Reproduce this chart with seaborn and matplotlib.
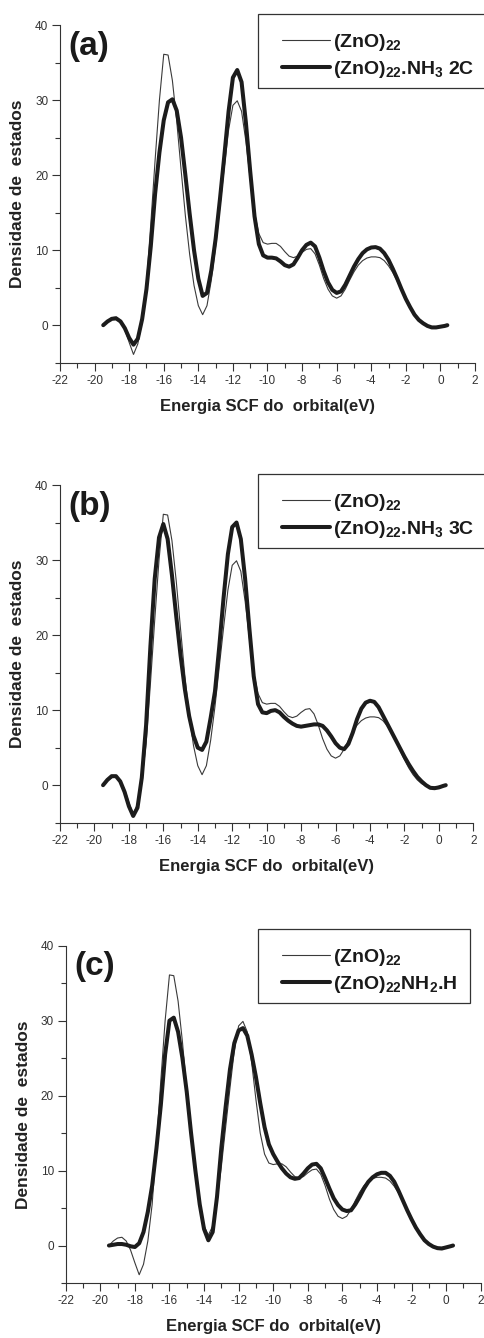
import numpy as np
import seaborn as sns
import matplotlib.pyplot as plt
from matplotlib.ticker import MultipleLocator
from matplotlib.patches import Rectangle

# energy grid (eV) shared by all curves
energia = np.append(np.arange(-19.5, 0.3, 0.25), 0.4)

# (ZnO)22 reference curve, thin line, same in all panels
zno22 = [0.0, 0.6,
         1.0, 1.1, 0.6, -0.6,
         -2.3, -3.9, -2.5, 0.6,
         5.5, 13.5, 22.0, 30.0,
         36.1, 36.0, 32.6, 27.2,
         20.8, 14.6, 9.4, 5.3,
         2.6, 1.4, 2.6, 6.0,
         10.5, 15.8, 21.0, 26.0,
         29.3, 29.9, 28.5, 24.5,
         19.5, 15.0, 12.2, 11.0,
         10.8, 10.9, 10.9, 10.5,
         9.8, 9.2, 9.0, 9.2,
         9.7, 10.1, 10.2, 9.5,
         8.0, 6.2, 4.8, 3.9,
         3.6, 3.9, 4.8, 6.0,
         7.1, 8.0, 8.6, 8.95,
         9.1, 9.1, 9.0, 8.6,
         7.9, 7.0, 5.9, 4.6,
         3.4, 2.3, 1.4, 0.7,
         0.2, -0.1, -0.25, -0.25,
         -0.15, -0.05, 0.0]

nh3_2c = [0.0, 0.5,
          0.85, 0.9, 0.5, -0.4,
          -1.7, -2.6, -1.8, 0.8,
          4.8, 10.5, 17.5, 23.0,
          27.3, 29.7, 30.1, 28.6,
          25.0, 20.0, 14.8, 10.0,
          6.2, 3.9, 4.3, 7.3,
          11.5, 16.8, 22.5, 28.5,
          33.0, 34.0, 32.4, 27.0,
          20.5, 14.5, 10.8, 9.3,
          9.0, 9.0, 8.9, 8.5,
          8.0, 7.8, 8.1, 9.0,
          10.0, 10.7, 11.0, 10.5,
          9.0, 7.2, 5.7, 4.7,
          4.3, 4.5, 5.4, 6.6,
          7.8, 8.8, 9.6, 10.1,
          10.35, 10.4, 10.2, 9.6,
          8.7, 7.5, 6.2, 4.8,
          3.5, 2.4, 1.4, 0.7,
          0.25, -0.1, -0.3, -0.3,
          -0.2, -0.1, 0.0]

nh3_3c = [0.0, 0.7,
          1.2, 1.2, 0.5, -0.9,
          -2.8, -4.1, -3.0, 1.0,
          8.0, 18.5, 27.5, 33.0,
          34.8, 32.8, 28.0, 22.5,
          17.3, 12.8, 9.2, 6.6,
          5.0, 4.7, 5.8, 9.0,
          12.5, 18.5, 25.0, 30.8,
          34.4, 35.0, 32.8, 27.5,
          20.8, 14.5, 10.8, 9.7,
          9.6, 9.9, 10.0, 9.7,
          9.1, 8.6, 8.2, 7.9,
          7.8, 7.9, 8.0, 8.1,
          8.1, 7.9, 7.3, 6.5,
          5.6, 5.0, 4.8, 5.5,
          7.0, 8.8, 10.2, 11.0,
          11.25, 11.1, 10.4, 9.3,
          8.2, 7.1, 6.0, 4.9,
          3.8, 2.8, 1.9, 1.1,
          0.5, 0.0, -0.35, -0.4,
          -0.3, -0.1, 0.0]

nh2_h = [0.0, 0.1,
         0.2, 0.2, 0.1, -0.1,
         -0.2, 0.3, 1.8, 4.5,
         8.0, 13.0, 18.7, 25.5,
         30.0, 30.4, 28.5, 25.0,
         20.5, 15.0, 10.0, 5.5,
         2.2, 0.7, 1.8, 6.5,
         13.0, 18.5, 23.5, 27.0,
         28.7, 29.0, 28.0, 25.5,
         22.5, 19.0, 15.8, 13.5,
         12.2, 11.2, 10.3, 9.6,
         9.1, 8.9, 9.0, 9.6,
         10.3, 10.8, 10.9, 10.3,
         9.0, 7.6, 6.3, 5.4,
         4.8, 4.6, 4.7, 5.5,
         6.5, 7.6, 8.5, 9.1,
         9.5, 9.7, 9.7, 9.3,
         8.5, 7.3, 6.0, 4.7,
         3.5, 2.4, 1.5, 0.7,
         0.2, -0.15, -0.35, -0.4,
         -0.25, -0.1, 0.0]

paineis = ['(a)', '(b)', '(c)']
rotulos = [r'(ZnO)$_{22}$.NH$_3$ 2C', r'(ZnO)$_{22}$.NH$_3$ 3C', r'(ZnO)$_{22}$NH$_2$.H']
curvas = [nh3_2c, nh3_3c, nh2_h]

sns.set_style('ticks')
plt.rcParams['font.family'] = ['Liberation Sans', 'DejaVu Sans']
plt.rcParams['axes.unicode_minus'] = False
plt.rcParams['mathtext.fontset'] = 'custom'
plt.rcParams['mathtext.rm'] = 'Liberation Sans:bold'
plt.rcParams['mathtext.it'] = 'Liberation Sans:bold'
plt.rcParams['mathtext.bf'] = 'Liberation Sans:bold'

W, H = 485, 1338
fig = plt.figure(figsize=(W / 100, H / 100), dpi=100)

# axes boxes in pixels: left, top (y=40), right, bottom (y=-5)
caixas = [(60, 25, 475, 362.7), (60, 485, 473.3, 822.7), (65.7, 945.7, 480.7, 1283)]
# legend frames in pixels: left, top, right, bottom
quadros = [(258, 14, 492, 88), (258, 474, 492, 548), (258, 929, 470, 1003)]

for i in range(3):
    l, t, r, b = caixas[i]
    ax = fig.add_axes([l / W, 1 - b / H, (r - l) / W, (b - t) / H])
    sns.lineplot(x=energia, y=zno22, ax=ax, color='#3a3a3a', linewidth=0.8,
                 label=r'(ZnO)$_{22}$', solid_joinstyle='round')
    sns.lineplot(x=energia, y=curvas[i], ax=ax, color='#1c1c1c', linewidth=2.9,
                 label=rotulos[i], solid_joinstyle='round', solid_capstyle='round')
    ax.set_xlim(-22, 2)
    ax.set_ylim(-5, 40)
    ax.xaxis.set_major_locator(MultipleLocator(2))
    ax.xaxis.set_minor_locator(MultipleLocator(1))
    ax.yaxis.set_major_locator(MultipleLocator(10))
    ax.yaxis.set_minor_locator(MultipleLocator(5))
    ax.tick_params(which='major', length=6, width=0.8, color='#333', labelsize=8.5,
                   labelcolor='#333', pad=2.5)
    ax.tick_params(which='minor', length=3.5, width=0.8, color='#333')
    sns.despine(ax=ax)
    for s in ['left', 'bottom']:
        ax.spines[s].set_color('#333')
        ax.spines[s].set_linewidth(0.8)
    ax.set_xlabel('Energia SCF do  orbital(eV)', fontsize=12, fontweight='bold',
                  color='#222', labelpad=9)
    ax.set_ylabel('Densidade de  estados', fontsize=12.5, fontweight='bold',
                  color='#222', labelpad=7)
    ax.text(0.02, 0.937, paineis[i], transform=ax.transAxes, fontsize=24,
            fontweight='bold', ha='left', va='center', color='#1a1a1a')

    ql, qt, qr, qb = quadros[i]
    fig.patches.append(Rectangle((ql / W, 1 - qb / H), (qr - ql) / W, (qb - qt) / H,
                                 transform=fig.transFigure, fill=False,
                                 edgecolor='#333', linewidth=0.9))
    leg = ax.legend(loc='upper left', bbox_to_anchor=(282 / W, 1 - (qt + 18) / H),
                    bbox_transform=fig.transFigure, frameon=False, fontsize=14,
                    borderpad=0, handlelength=2.45, handletextpad=0.15,
                    labelspacing=0.3, borderaxespad=0)
    for txt in leg.get_texts():
        txt.set_fontweight('bold')
        txt.set_color('#1a1a1a')

fig.savefig('out.png', dpi=100)
